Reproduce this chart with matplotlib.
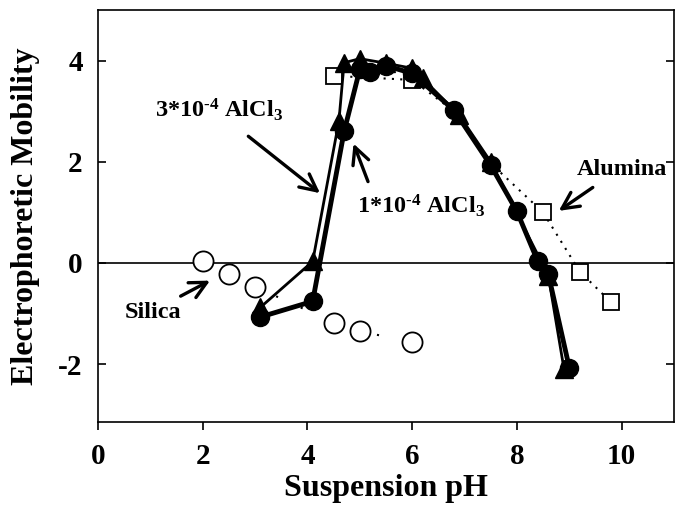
import matplotlib
matplotlib.use('Agg')
import matplotlib.pyplot as plt

plt.rcParams['font.family'] = 'Liberation Serif'
plt.rcParams['font.weight'] = 'bold'
plt.rcParams['mathtext.fontset'] = 'custom'
plt.rcParams['mathtext.rm'] = 'Liberation Serif:bold'
plt.rcParams['mathtext.default'] = 'rm'
plt.rcParams['axes.unicode_minus'] = False

# Data
silica_ph = [2.0, 2.5, 3.0, 4.5, 5.0, 6.0]
silica_mob = [0.03, -0.22, -0.47, -1.18, -1.35, -1.57]

alumina_ph = [4.5, 6.0, 6.8, 7.5, 8.5, 9.2, 9.8]
alumina_mob = [3.7, 3.62, 3.0, 1.97, 1.0, -0.17, -0.78]

al3_ph = [3.1, 4.1, 4.6, 4.7, 5.0, 5.5, 6.0, 6.2, 6.9, 7.5, 8.6, 8.9]
al3_mob = [-0.88, 0.03, 2.8, 3.96, 4.04, 3.95, 3.85, 3.65, 2.92, 2.0, -0.25, -2.1]

al1_ph = [3.1, 4.1, 4.7, 5.0, 5.2, 5.5, 6.0, 6.8, 7.5, 8.0, 8.4, 8.6, 9.0]
al1_mob = [-1.07, -0.76, 2.6, 3.83, 3.78, 3.9, 3.75, 3.02, 1.93, 1.02, 0.03, -0.22, -2.07]

fig = plt.figure(figsize=(6.76, 5.08), dpi=100)
ax = fig.add_axes([0.145, 0.169, 0.852, 0.811])

ax.axhline(0, color='black', lw=1.2, zorder=1)

ax.plot(silica_ph, silica_mob, linestyle=(0, (1, 12)), color='black', lw=1.5,
        marker='o', ms=14.5, mfc='white', mec='black', mew=1.3, zorder=2)
# squares at 6.8 and 7.5 sit under the filled markers, only the dotted line shows
ax.plot(alumina_ph, alumina_mob, linestyle=(0, (1, 3)), color='black', lw=1.5,
        marker='s', ms=11, mfc='white', mec='black', mew=1.3, zorder=2,
        markevery=[0, 1, 4, 5, 6])
ax.plot(al3_ph, al3_mob, color='black', lw=2.0,
        marker='^', ms=13, mfc='black', mec='black', zorder=3)
ax.plot(al1_ph, al1_mob, color='black', lw=3.5,
        marker='o', ms=13, mfc='black', mec='black', zorder=4)

arrow = dict(arrowstyle='->', color='black', lw=2.4, mutation_scale=30)
ax.annotate(r'3*10$^{\text{-4}}$ AlCl$_3$', xy=(4.24, 1.38), xytext=(2.31, 2.88),
            fontsize=17.5, ha='center', va='baseline', zorder=5,
            arrowprops=dict(arrow, relpos=(0.6, 0), shrinkA=12, shrinkB=0))
ax.annotate(r'1*10$^{\text{-4}}$ AlCl$_3$', xy=(4.88, 2.36), xytext=(4.94, 0.99),
            fontsize=17.5, ha='left', va='baseline', zorder=5,
            arrowprops=dict(arrow, relpos=(0.12, 1), shrinkA=6, shrinkB=0))
ax.annotate('Alumina', xy=(8.8, 1.03), xytext=(9.14, 1.74),
            fontsize=17.5, ha='left', va='baseline', zorder=5,
            arrowprops=dict(arrow, relpos=(0.3, 0), shrinkA=6, shrinkB=0))
ax.annotate('Silica', xy=(2.14, -0.35), xytext=(1.6, -1.08),
            fontsize=17.5, ha='right', va='baseline', zorder=5,
            arrowprops=dict(arrow, relpos=(0.8, 1), shrinkA=4, shrinkB=0))

ax.set_xlim(0, 11)
ax.set_ylim(-3.15, 5)
ax.set_xticks([0, 2, 4, 6, 8, 10])
ax.set_yticks([-2, 0, 2, 4])
ax.tick_params(axis='x', direction='out', length=6, width=1.2, labelsize=21, pad=9)
ax.tick_params(axis='y', direction='in', length=6, width=1.2, labelsize=21,
               right=True, pad=11)
for s in ax.spines.values():
    s.set_linewidth(1.2)
ax.set_xlabel('Suspension pH', fontsize=23, fontweight='bold', labelpad=3)
ax.set_ylabel('Electrophoretic Mobility', fontsize=23, fontweight='bold', labelpad=13)

fig.savefig('out.png', dpi=100)
